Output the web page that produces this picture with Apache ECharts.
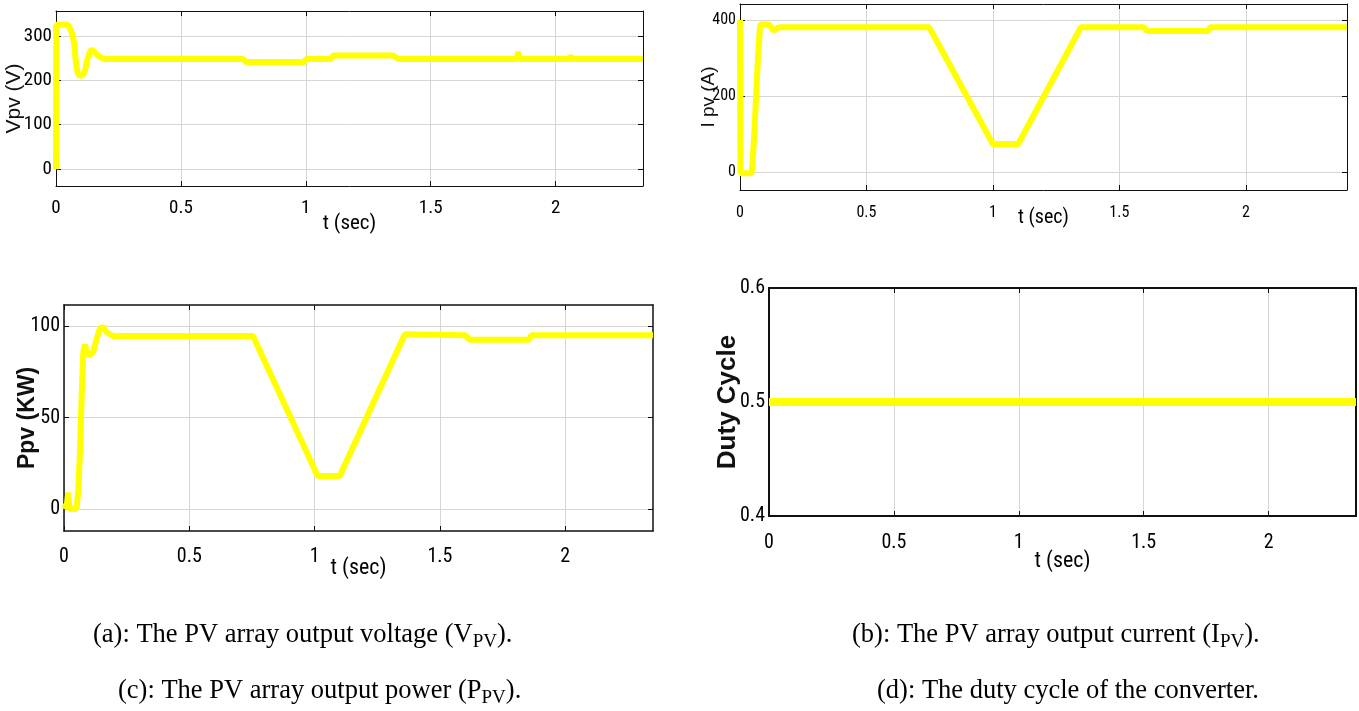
<!DOCTYPE html>
<html>
<head>
<meta charset="utf-8">
<title>PV array simulation results</title>
<script src="https://cdn.jsdelivr.net/npm/echarts@6/dist/echarts.min.js"></script>
<style>
  html, body { margin: 0; padding: 0; background: #ffffff; }
  #chart { width: 1359px; height: 711px; }
</style>
</head>
<body>
<div id="chart"></div>
<script>
// ---- Simulation traces (time in seconds) ----
// (a) PV array output voltage, V
const tVolt = [0, 0.001, 0.047, 0.056, 0.064, 0.073, 0.078, 0.082, 0.087, 0.095, 0.108, 0.117, 0.125, 0.134, 0.143, 0.151, 0.169, 0.186, 0.2, 0.75, 0.76, 0.995, 1.0, 1.1, 1.11, 1.35, 1.37, 1.845, 1.85, 1.855, 2.055, 2.06, 2.065, 2.35];
const vPV   = [0, 325, 325, 317, 306, 283, 250, 231, 216, 210, 212, 224, 246, 261, 270, 265, 255, 250, 248, 248, 241, 241, 248, 248, 256, 256, 248, 248, 264, 248, 248, 256, 248, 248];

// (b) PV array output current, A
const tCurr = [0, 0.002, 0.046, 0.051, 0.058, 0.065, 0.072, 0.079, 0.082, 0.115, 0.132, 0.149, 0.16, 0.748, 1.0, 1.1, 1.348, 1.596, 1.61, 1.85, 1.86, 2.4];
const iPV   = [400, -3, -3, 40, 119, 216, 312, 382, 388, 388, 372, 379, 381, 381, 74, 74, 381, 381, 371, 371, 381, 381];

// (c) PV array output power, kW
const tPow = [0, 0.012, 0.017, 0.022, 0.05, 0.057, 0.064, 0.071, 0.077, 0.084, 0.09, 0.101, 0.117, 0.13, 0.143, 0.156, 0.17, 0.19, 0.2, 0.754, 1.012, 1.1, 1.36, 1.6, 1.62, 1.855, 1.865, 2.35];
const pPV  = [0, 3, 9, 0, 0, 10, 32, 64, 86, 90, 86, 84, 86, 93, 98.5, 99.5, 96.7, 95, 94.5, 94.5, 18, 18, 95.5, 95, 92.5, 92.5, 95, 95];

// (d) converter duty cycle
const tDuty = [0, 2.35];
const duty  = [0.5, 0.5];

// ---- Tick labels ----
const timeTicks  = [0, 0.5, 1, 1.5, 2];
const voltTicks  = [0, 100, 200, 300];
const currTicks  = [0, 200, 400];
const powTicks   = [0, 50, 100];
const dutyTicks  = [0.4, 0.5, 0.6];

// ---- Axis titles and captions ----
const yNames = ['Vpv (V)', 'I pv (A)', 'Ppv (KW)', 'Duty Cycle'];
const xName = 't (sec)';
const captions = [
  '(a): The PV array output voltage (V{sub|PV}).',
  '(b): The PV array output current (I{sub|PV}).',
  '(c): The PV array output power (P{sub|PV}).',
  '(d): The duty cycle of the converter.'
];

const SANS = "'Liberation Sans', Arial, sans-serif";
const SERIF = "'Liberation Serif', 'Times New Roman', serif";
const NUM = "Roboto, 'DejaVu Sans Condensed', sans-serif";   // drawn with the condensed width

function pairs(xs, ys) { return xs.map((x, k) => [x, ys[k]]); }

// Layout of the four panels
const panels = [
  { box: { left: 56,  top: 11,  width: 587, height: 175 }, xMax: 2.35, yMin: -38, yMax: 356, yTicks: voltTicks,
    data: pairs(tVolt, vPV), lw: 6, tickFont: 19, nameFont: 21, xMargin: 13, xNameGap: 27, yNameGap: 31,
    yNameFont: { fontSize: 21, fontWeight: 'normal' }, border: 1, name: yNames[0] },
  { box: { left: 740, top: 4,   width: 607, height: 186 }, xMax: 2.4, yMin: -47, yMax: 442, yTicks: currTicks,
    data: pairs(tCurr, iPV), lw: 6, tickFont: 16, nameFont: 20, xMargin: 15, xNameGap: 18, yNameGap: 22,
    yNameFont: { fontSize: 19, fontWeight: 'normal' }, border: 1, name: yNames[1] },
  { box: { left: 64,  top: 305, width: 589, height: 226 }, xMax: 2.35, yMin: -12, yMax: 111.5, yTicks: powTicks,
    data: pairs(tPow, pPV), lw: 6, tickFont: 20, nameFont: 22, xMargin: 16, xNameGap: 26, yNameGap: 25,
    yNameFont: { fontSize: 23, fontWeight: 'bold' }, border: 1.5, name: yNames[2] },
  { box: { left: 769, top: 288, width: 587, height: 228 }, xMax: 2.35, yMin: 0.4, yMax: 0.6, yTicks: dutyTicks,
    data: pairs(tDuty, duty), lw: 8, tickFont: 20, nameFont: 22, xMargin: 17, xNameGap: 34, yNameGap: 28,
    yNameFont: { fontSize: 26, fontWeight: 'bold' }, border: 2, name: yNames[3] }
];

const grid = [], xAxis = [], yAxis = [], series = [];
panels.forEach((p, i) => {
  grid.push(Object.assign({ containLabel: false }, p.box));
  const line = { show: true, onZero: false, lineStyle: { color: '#111', width: p.border } };
  const tick = { show: true, inside: true, length: 5, lineStyle: { color: '#111', width: 1 } };
  const split = { show: true, lineStyle: { color: '#d6d6d6', width: 1 } };
  const numStyle = { color: '#000', fontFamily: NUM, fontWeight: 'condensed', fontSize: p.tickFont };
  // bottom time axis
  xAxis.push({
    gridIndex: i, type: 'value', position: 'bottom', min: 0, max: p.xMax,
    axisLine: line,
    axisTick: Object.assign({}, tick, { customValues: timeTicks }),
    axisLabel: Object.assign({ customValues: timeTicks, margin: p.xMargin }, numStyle),
    splitLine: split,
    name: xName, nameLocation: 'middle', nameGap: p.xNameGap, nameMoveOverlap: false,
    nameTextStyle: { color: '#000', fontFamily: NUM, fontWeight: 'condensed', fontSize: p.nameFont, verticalAlign: 'top' }
  });
  // mirrored top axis closes the box and carries the top ticks
  xAxis.push({
    gridIndex: i, type: 'value', position: 'top', min: 0, max: p.xMax,
    axisLine: line,
    axisTick: Object.assign({}, tick, { customValues: timeTicks }),
    axisLabel: { show: false }, splitLine: { show: false }
  });
  yAxis.push({
    gridIndex: i, type: 'value', position: 'left', min: p.yMin, max: p.yMax,
    axisLine: line,
    axisTick: Object.assign({}, tick, { customValues: p.yTicks }),
    axisLabel: Object.assign({ customValues: p.yTicks, margin: 4 }, numStyle),
    splitLine: split,
    name: p.name, nameLocation: 'middle', nameGap: p.yNameGap, nameMoveOverlap: false,
    nameTextStyle: Object.assign({ color: '#111', fontFamily: SANS }, p.yNameFont)
  });
  yAxis.push({
    gridIndex: i, type: 'value', position: 'right', min: p.yMin, max: p.yMax,
    axisLine: line,
    axisTick: Object.assign({}, tick, { customValues: p.yTicks }),
    axisLabel: { show: false }, splitLine: { show: false }
  });
  series.push({
    type: 'line', xAxisIndex: 2 * i, yAxisIndex: 2 * i,
    data: p.data, showSymbol: false, symbol: 'none',
    lineStyle: { color: '#ffff00', width: p.lw }, clip: true, z: 3
  });
});

const capPos = [
  { left: 93,  top: 618 }, { left: 852, top: 618 },
  { left: 118, top: 674 }, { left: 877, top: 678 }
];
const title = captions.map((c, k) => ({
  text: c, left: capPos[k].left, top: capPos[k].top, padding: 0,
  textStyle: {
    color: '#000', fontFamily: SERIF, fontSize: 26.5, fontWeight: 'normal',
    rich: { sub: { fontFamily: SERIF, fontSize: 19, padding: [15, 0, 0, 0], color: '#000' } }
  }
}));

const chart = echarts.init(document.getElementById('chart'), null, { renderer: 'canvas' });
chart.setOption({
  animation: false,
  backgroundColor: '#ffffff',
  title, grid, xAxis, yAxis, series
});
</script>
</body>
</html>
